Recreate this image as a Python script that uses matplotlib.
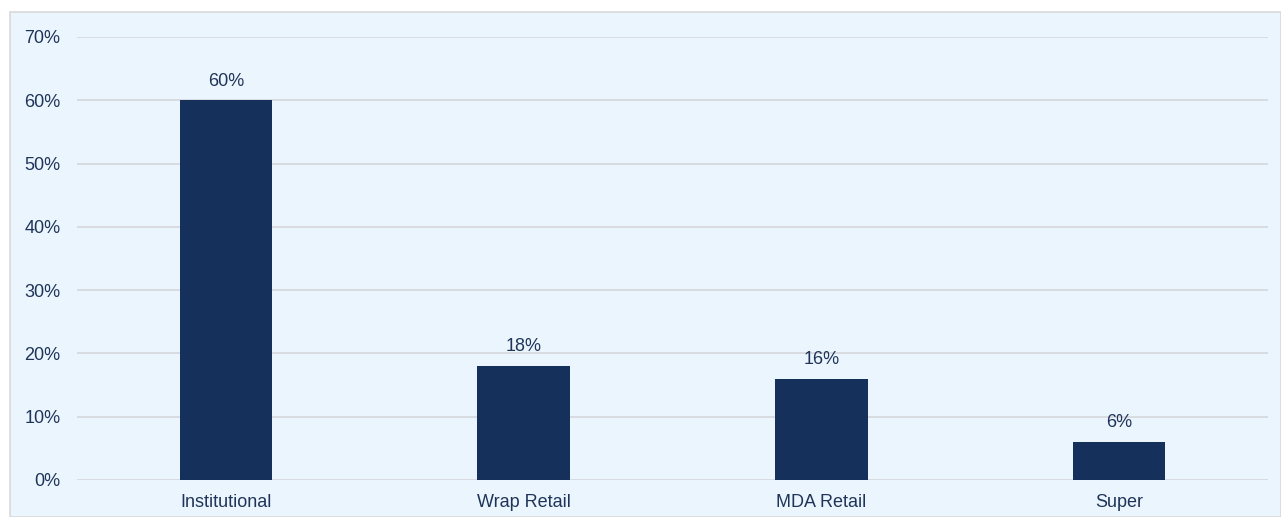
import matplotlib
matplotlib.use("Agg")
import matplotlib.pyplot as plt
from matplotlib.patches import Rectangle

categories = ["Institutional", "Wrap Retail", "MDA Retail", "Super"]
values = [60, 18, 16, 6]
yticks = [0, 10, 20, 30, 40, 50, 60, 70]
ytick_labels = ["0%", "10%", "20%", "30%", "40%", "50%", "60%", "70%"]

W, H = 1281, 517
plt.rcParams["font.family"] = ["Liberation Sans", "DejaVu Sans"]
fig = plt.figure(figsize=(W / 100, H / 100), dpi=100)
fig.patch.set_facecolor("white")

bg = "#EBF5FE"
text_c = "#1F3458"
bar_c = "#15305B"
fs = 13

panel = Rectangle((10 / W, 0), 1 - 10 / W, 1 - 12 / H, transform=fig.transFigure,
                  facecolor=bg, edgecolor="#D9D9D9", linewidth=1.2, zorder=-10)
fig.add_artist(panel)

ax = fig.add_axes([77 / W, 37 / H, (1268 - 77) / W, (480 - 37) / H])
ax.set_zorder(1)
ax.set_facecolor("none")
x = list(range(len(categories)))
bars = ax.bar(x, values, width=0.31, color=bar_c, zorder=3)
for xi, v in zip(x, values):
    ax.text(xi, v + 1.7, f"{v}%", ha="center", va="bottom", fontsize=fs, color=text_c)

ax.set_xlim(-0.5, len(categories) - 0.5)
ax.set_ylim(0, 70)
ax.set_yticks(yticks)
ax.set_yticklabels(ytick_labels, fontsize=fs, color=text_c)
ax.set_xticks(x)
ax.set_xticklabels(categories, fontsize=fs, color=text_c)
ax.tick_params(axis="both", length=0)
ax.tick_params(axis="y", pad=12)
ax.tick_params(axis="x", pad=10)
ax.grid(axis="y", color="#D6D9DC", linewidth=1.3, zorder=0)
for s in ax.spines.values():
    s.set_visible(False)

fig.savefig("out.png", dpi=100, facecolor=fig.get_facecolor())
